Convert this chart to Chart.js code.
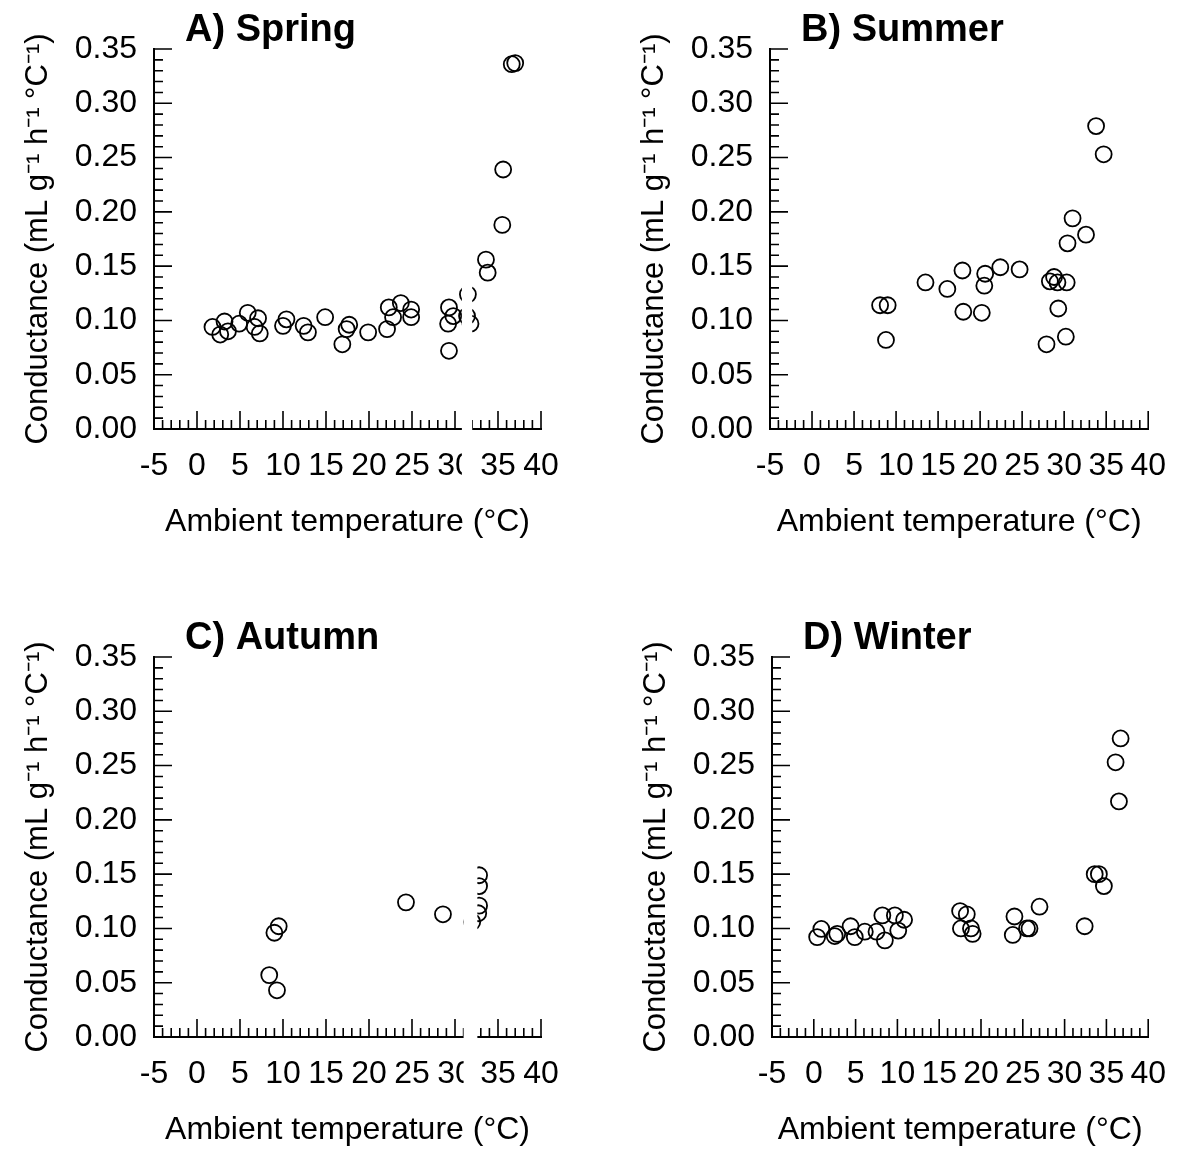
<!DOCTYPE html>
<html>
<head>
<meta charset="utf-8">
<title>Conductance vs ambient temperature</title>
<script src="https://cdn.jsdelivr.net/npm/chart.js@4.4.1/dist/chart.umd.min.js"></script>
<style>
  html, body { margin: 0; padding: 0; background: #fff; }
  #page { position: relative; width: 1184px; height: 1149px; overflow: hidden; background: #fff; }
  .panel { position: absolute; width: 592px; height: 575px; }
</style>
</head>
<body>
<div id="page">
  <div class="panel" style="left:0;top:0"><canvas id="spring" width="592" height="575"></canvas></div>
  <div class="panel" style="left:592px;top:0"><canvas id="summer" width="592" height="575"></canvas></div>
  <div class="panel" style="left:0;top:574px"><canvas id="autumn" width="592" height="575"></canvas></div>
  <div class="panel" style="left:592px;top:574px"><canvas id="winter" width="592" height="575"></canvas></div>
</div>
<script>
// tick labels
const tempTicks = [-5, 0, 5, 10, 15, 20, 25, 30, 35, 40];
const condTicks = [0.00, 0.05, 0.10, 0.15, 0.20, 0.25, 0.30, 0.35];

// A) Spring
const springTemp = [1.8, 2.7, 3.2, 3.6, 4.9, 5.9, 7.1, 6.7, 7.3, 10.0, 10.4, 12.4, 12.9, 14.9, 16.9, 17.4, 17.7, 19.9,
                    22.1, 22.3, 22.8, 23.7, 24.9, 24.9, 29.3, 29.8, 29.2, 29.3, 31.5, 31.4, 31.8, 33.6, 33.8, 35.5, 35.6, 36.6, 37.0];
const springCond = [0.094, 0.087, 0.099, 0.090, 0.097, 0.107, 0.102, 0.094, 0.088, 0.095, 0.101, 0.095, 0.089, 0.103, 0.078, 0.092, 0.096, 0.089,
                    0.092, 0.112, 0.103, 0.116, 0.110, 0.103, 0.112, 0.104, 0.097, 0.072, 0.124, 0.104, 0.097, 0.156, 0.144, 0.188, 0.239, 0.336, 0.337];

// B) Summer
const summerTemp = [8.1, 9.0, 8.8, 13.5, 16.1, 17.9, 18.0, 20.2, 20.5, 20.6, 22.4, 24.7,
                    27.9, 28.3, 28.8, 29.2, 29.3, 30.2, 30.3, 30.4, 31.0, 32.6, 33.8, 34.7];
const summerCond = [0.114, 0.114, 0.082, 0.135, 0.129, 0.146, 0.108, 0.107, 0.132, 0.143, 0.149, 0.147,
                    0.078, 0.136, 0.140, 0.135, 0.111, 0.085, 0.135, 0.171, 0.194, 0.179, 0.279, 0.253];

// C) Autumn
const autumnTemp = [8.4, 9.0, 9.3, 9.5, 24.3, 28.6, 32.8, 32.8, 32.8, 32.7, 32.0];
const autumnCond = [0.057, 0.096, 0.043, 0.102, 0.124, 0.113, 0.149, 0.139, 0.121, 0.114, 0.106];

// D) Winter
const winterTemp = [0.4, 0.9, 2.5, 2.8, 4.4, 4.9, 6.1, 7.5, 8.2, 8.5, 9.7, 10.1, 10.8,
                    17.5, 18.3, 17.6, 18.8, 19.0, 24.0, 23.8, 25.5, 25.8, 27.0,
                    32.4, 33.6, 34.1, 34.7, 36.1, 36.5, 36.7];
const winterCond = [0.092, 0.0995, 0.093, 0.095, 0.102, 0.092, 0.097, 0.097, 0.112, 0.089, 0.112, 0.098, 0.108,
                    0.116, 0.113, 0.100, 0.100, 0.095, 0.111, 0.094, 0.100, 0.100, 0.120,
                    0.102, 0.150, 0.150, 0.139, 0.253, 0.217, 0.275];

const FONT = '"Liberation Sans", Arial, Helvetica, sans-serif';
Chart.defaults.font.family = FONT;
Chart.defaults.color = '#000';

// small inward ticks on both axes (every 1 degC / every 0.01)
const innerTicks = {
    id: 'innerTicks',
    afterDraw(chart) {
        const {ctx, chartArea: a, scales: {x, y}} = chart;
        ctx.save();
        ctx.strokeStyle = '#000';
        ctx.lineWidth = 1.6;
        ctx.beginPath();
        for (let t = x.min; t <= x.max; t++) {
            const px = x.getPixelForValue(t);
            const len = t % 5 === 0 ? 18 : 9;
            ctx.moveTo(px, a.bottom);
            ctx.lineTo(px, a.bottom - len);
        }
        for (let i = 0; i <= Math.round(y.max * 100); i++) {
            const py = y.getPixelForValue(i / 100);
            const len = i % 5 === 0 ? 18 : 9;
            ctx.moveTo(a.left, py);
            ctx.lineTo(a.left + len, py);
        }
        ctx.stroke();
        ctx.restore();
    }
};

// bold panel letter above the plot
const panelTitle = {
    id: 'panelTitle',
    afterDraw(chart, args, opts) {
        const {ctx, chartArea: a} = chart;
        ctx.save();
        ctx.font = 'bold 38px ' + FONT;
        ctx.fillStyle = '#000';
        ctx.textBaseline = 'alphabetic';
        ctx.fillText(opts.text, a.left + 31, a.top - 8);
        ctx.restore();
    }
};

// white vertical strip from the scanned original (panels A and C)
const scanGap = {
    id: 'scanGap',
    afterDraw(chart, args, opts) {
        if (!opts.from) return;
        const {ctx, scales: {x}} = chart;
        const x0 = x.getPixelForValue(opts.from);
        const x1 = x.getPixelForValue(opts.to);
        ctx.save();
        ctx.fillStyle = '#fff';
        ctx.fillRect(x0, 0, x1 - x0, x.top + 52);
        ctx.restore();
    }
};

const X_AXIS_H = 112;
const Y_AXIS_W = 154;

function createScatter(id, title, temps, conds, box, gap) {
    const ctx = document.getElementById(id).getContext('2d');
    const points = temps.map((t, i) => ({x: t, y: conds[i]}));
    return new Chart(ctx, {
        type: 'scatter',
        data: {
            datasets: [{
                data: points,
                pointStyle: 'circle',
                pointRadius: 8,
                pointBorderWidth: 1.8,
                pointBorderColor: '#000',
                pointBackgroundColor: 'rgba(0,0,0,0)',
                clip: false
            }]
        },
        options: {
            responsive: false,
            animation: false,
            events: [],
            layout: {
                padding: {
                    left: box.left - Y_AXIS_W,
                    top: box.top,
                    right: 592 - box.right,
                    bottom: 575 - box.bottom - X_AXIS_H
                }
            },
            plugins: {
                legend: {display: false},
                tooltip: {enabled: false},
                panelTitle: {text: title},
                scanGap: gap || {}
            },
            scales: {
                x: {
                    type: 'linear',
                    min: -5,
                    max: 40,
                    afterBuildTicks: s => { s.ticks = tempTicks.map(v => ({value: v})); },
                    afterFit: s => { s.height = X_AXIS_H; },
                    grid: {display: true, drawOnChartArea: false, drawTicks: false},
                    border: {display: true, color: '#000', width: 2},
                    ticks: {
                        font: {size: 32},
                        padding: 18,
                        maxRotation: 0,
                        autoSkip: false,
                        callback: v => String(v)
                    },
                    title: {
                        display: true,
                        text: 'Ambient temperature (°C)',
                        font: {size: 32},
                        padding: {top: 0, bottom: 0}
                    }
                },
                y: {
                    type: 'linear',
                    min: 0,
                    max: 0.35,
                    afterBuildTicks: s => { s.ticks = condTicks.map(v => ({value: v})); },
                    afterFit: s => { s.width = Y_AXIS_W; },
                    grid: {display: true, drawOnChartArea: false, drawTicks: false},
                    border: {display: true, color: '#000', width: 2},
                    ticks: {
                        font: {size: 32},
                        padding: 17,
                        autoSkip: false,
                        callback: v => v.toFixed(2)
                    },
                    title: {
                        display: true,
                        text: 'Conductance (mL g⁻¹ h⁻¹ °C⁻¹)',
                        font: {size: 31},
                        padding: {top: 20, bottom: 0}
                    }
                }
            }
        },
        plugins: [innerTicks, panelTitle, scanGap]
    });
}

document.addEventListener('DOMContentLoaded', function() {
    createScatter('spring', 'A) Spring', springTemp, springCond,
        {left: 154, top: 49, right: 541, bottom: 429}, {from: 30.8, to: 32.0});
    createScatter('summer', 'B) Summer', summerTemp, summerCond,
        {left: 178, top: 49, right: 564, bottom: 429});
    createScatter('autumn', 'C) Autumn', autumnTemp, autumnCond,
        {left: 154, top: 83, right: 541, bottom: 463}, {from: 31.0, to: 32.6});
    createScatter('winter', 'D) Winter', winterTemp, winterCond,
        {left: 180, top: 83, right: 561, bottom: 463});
});
</script>
</body>
</html>
